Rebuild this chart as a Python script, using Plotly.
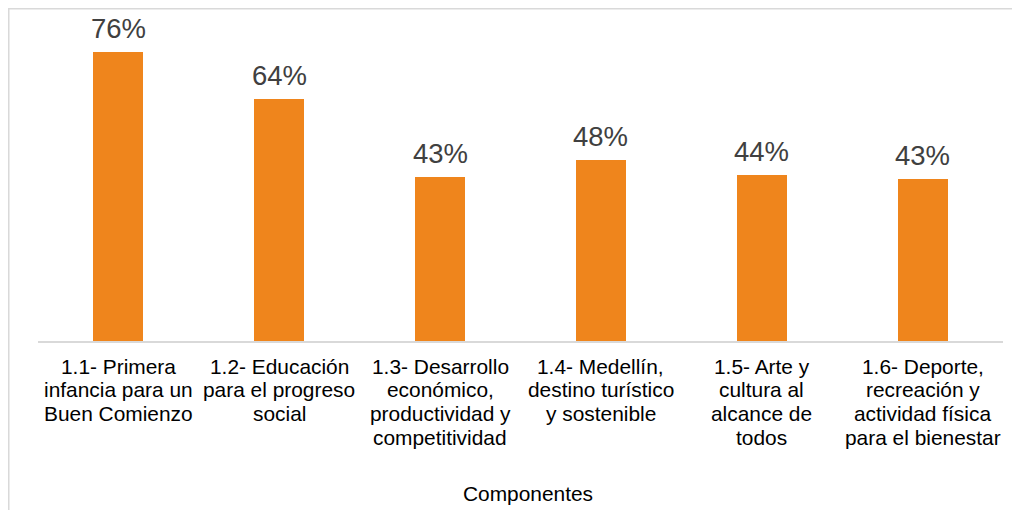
import plotly.graph_objects as go

category_lines = [
    ["1.1- Primera", "infancia para un", "Buen Comienzo"],
    ["1.2- Educación", "para el progreso", "social"],
    ["1.3- Desarrollo", "económico,", "productividad y", "competitividad"],
    ["1.4- Medellín,", "destino turístico", "y sostenible"],
    ["1.5- Arte y", "cultura al", "alcance de", "todos"],
    ["1.6- Deporte,", "recreación y", "actividad física", "para el bienestar"],
]
categories = [" ".join(lines) for lines in category_lines]
values = [75.9, 63.7, 43.1, 47.6, 43.6, 42.6]
value_labels = ["76%", "64%", "43%", "48%", "44%", "43%"]
axis_title = "Componentes"

FONT = "Liberation Sans, Arial"
fig = go.Figure(
    go.Bar(
        x=categories,
        y=values,
        marker=dict(color="#EF851C", line=dict(width=0)),
        width=0.31,
        hoverinfo="y",
    )
)

# value labels above bars
for cat, v, lab in zip(categories, values, value_labels):
    fig.add_annotation(
        x=cat, y=v, xref="x", yref="y", text=lab, showarrow=False,
        yanchor="bottom", yshift=6,
        font=dict(size=27.5, color="#404040", family=FONT),
    )

# category labels, line by line (tight line spacing as in the reference)
LINE_H = 23.7
for cat, lines in zip(categories, category_lines):
    for i, line in enumerate(lines):
        fig.add_annotation(
            x=cat, y=0, xref="x", yref="y", text=line, showarrow=False,
            yanchor="middle", yshift=-(25 + i * LINE_H),
            font=dict(size=20.9, color="#000000", family=FONT),
        )

# axis title
fig.add_annotation(
    x=0.5, y=0, xref="paper", yref="paper", text=axis_title, showarrow=False,
    xanchor="center", yanchor="middle", xshift=7, yshift=-152,
    font=dict(size=20.9, color="#000000", family=FONT),
)

# the page body adds an 8px offset; figure fills the rest of the window
W, H = 1012, 502
ml, mt, pw, ph = 30, 12, 965.5, 321
fig.add_shape(
    type="rect", xref="paper", yref="paper",
    x0=(0.75 - ml) / pw, x1=(W + 20 - ml) / pw,
    y0=(mt + ph - (H + 20)) / ph, y1=(mt + ph - 0.75) / ph,
    line=dict(color="#D9D9D9", width=1.5), fillcolor="rgba(0,0,0,0)", layer="below",
)

fig.update_layout(
    width=W, height=H,
    margin=dict(l=ml, r=W - ml - pw, t=mt, b=H - mt - ph, pad=0),
    plot_bgcolor="white", paper_bgcolor="white",
    font=dict(family=FONT, size=20.9, color="#000000"),
    showlegend=False,
    bargap=0,
)
fig.update_xaxes(
    automargin=False,
    showline=True, linecolor="#D9D9D9", linewidth=1.5,
    ticks="", showticklabels=False,
)
fig.update_yaxes(range=[0, 84.4], visible=False, showgrid=False, automargin=False)

fig.write_html("out.html")
